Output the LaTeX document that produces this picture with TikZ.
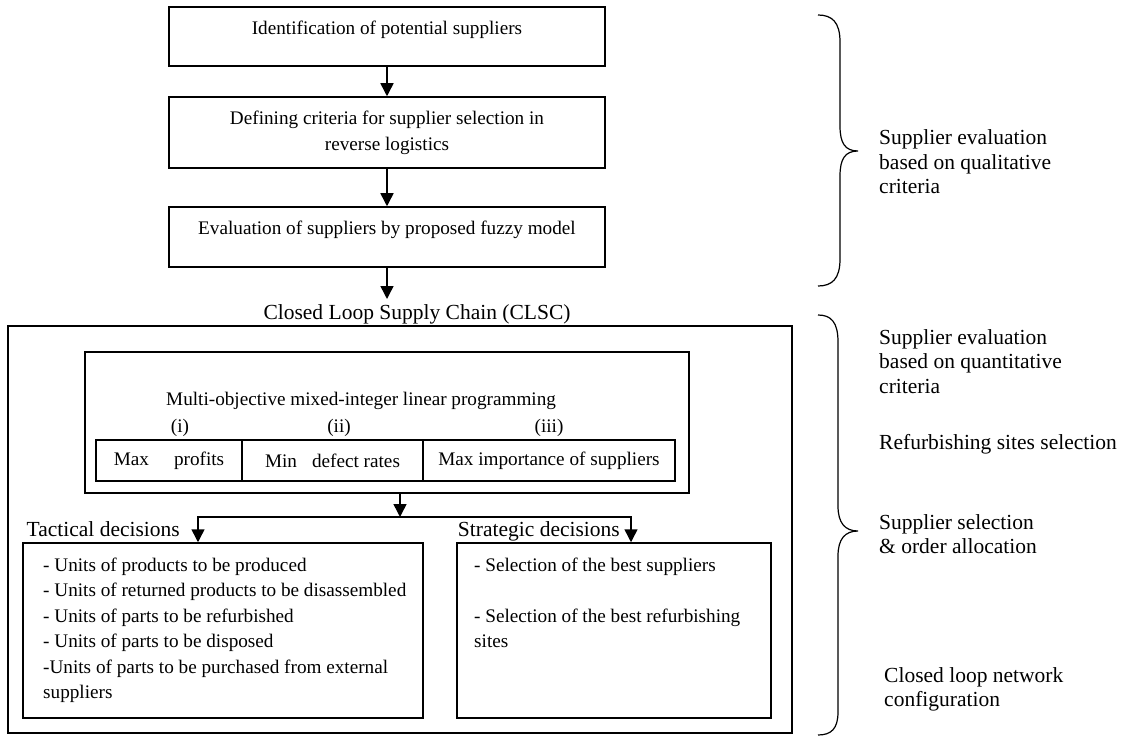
\documentclass[tikz,border=0pt]{standalone}
\usepackage{fontspec}
\setmainfont{Liberation Serif}
\usetikzlibrary{arrows.meta}
\newcommand\fmain{\fontsize{19.2}{25.5}\selectfont}
\newcommand\flab{\fontsize{21.5}{24.5}\selectfont}
\begin{document}
\begin{tikzpicture}[x=1pt,y=-1pt,
  box/.style={draw, line width=1.5pt, inner sep=0pt},
  txt/.style={inner sep=0pt, font=\fmain},
  lab/.style={inner sep=0pt, font=\flab},
  arr/.style={line width=1.5pt, -{Triangle[length=13pt,width=13pt]}},
  brace/.style={line width=1.2pt}]
\useasboundingbox (0,0) rectangle (1124,738);

% upper chain
\node[box, minimum width=436pt, minimum height=59pt] (b1) at (387,36.5) {};
\node[txt, anchor=base] (t1) at (387,35) {Identification of potential suppliers};
\node[box, minimum width=436pt, minimum height=71pt] (b2) at (387,132.5) {};
\node[txt, anchor=base] (t2) at (387,125) {\begin{tabular}[t]{@{}c@{}}Defining criteria for supplier selection in\\ reverse logistics\end{tabular}};
\node[box, minimum width=436pt, minimum height=60pt] (b3) at (387,237) {};
\node[txt, anchor=base] (t3) at (387,234) {Evaluation of suppliers by proposed fuzzy model};
\coordinate (e3) at (387,299);
\draw[arr] (b1.south) -- (b2.north);
\draw[arr] (b2.south) -- (b3.north);
\draw[arr] (b3.south) -- (e3);

% CLSC
\node[lab, anchor=base] (clsc) at (417,319) {Closed Loop Supply Chain (CLSC)};
\node[box, minimum width=784pt, minimum height=407pt] (outer) at (400,529.5) {};
\node[box, minimum width=604pt, minimum height=141pt] (mom) at (387,422.5) {};
\node[txt, anchor=base west] (title) at (166,405) {Multi-objective mixed-integer linear programming};
\node[txt, anchor=base] (o1) at (180,432) {(i)};
\node[txt, anchor=base] (o2) at (339,432) {(ii)};
\node[txt, anchor=base] (o3) at (549,432) {(iii)};
\node[box, minimum width=146pt, minimum height=41pt, font=\fmain] (c1) at (169,460.5) {Max\hspace{25pt}profits};
\node[box, minimum width=181pt, minimum height=41pt, font=\fmain] (c2) at (332.5,460.5) {Min\hspace{15pt}defect rates};
\node[box, minimum width=252pt, minimum height=41pt, font=\fmain] (c3) at (549,460.5) {Max importance of suppliers};

% decisions
\node[box, minimum width=400pt, minimum height=175pt] (tac) at (223,630.5) {};
\node[box, minimum width=314pt, minimum height=175pt] (str) at (614,630.5) {};
\coordinate (hm) at (400,517);
\coordinate (hl) at (198,517);
\coordinate (hr) at (631,517);
\draw[arr] (hm |- mom.south) -- (hm);
\draw[arr] (hm) -- (hl) -- (hl |- tac.north);
\draw[arr] (hm) -- (hr) -- (hr |- str.north);
\node[lab, anchor=base east] (tl) at (180,536) {Tactical decisions};
\node[lab, anchor=base east] (sl) at (620,536) {Strategic decisions};
\node[txt, anchor=base west] (tt) at (43,571) {\begin{tabular}[t]{@{}l@{}}- Units of products to be produced\\ - Units of returned products to be disassembled\\ - Units of parts to be refurbished\\ - Units of parts to be disposed\\ -Units of parts to be purchased from external\\ suppliers\end{tabular}};
\node[txt, anchor=base west] (st) at (474,571) {\begin{tabular}[t]{@{}l@{}}- Selection of the best suppliers\\ \\ - Selection of the best refurbishing\\ sites\end{tabular}};

% right side
\draw[brace] (818,15) .. controls (832,15) and (840,22) .. (840,42) -- (840,126) .. controls (840,143) and (845,151) .. (858,151) .. controls (845,151) and (840,159) .. (840,176) -- (840,259) .. controls (840,279) and (832,286) .. (818,286);
\draw[brace] (818,315) .. controls (831,315) and (838,322) .. (838,342) -- (838,506) .. controls (838,523) and (845,531) .. (858,531) .. controls (845,531) and (838,539) .. (838,556) -- (838,712) .. controls (838,729) and (831,735) .. (818,735);
\node[lab, anchor=base west] (r1) at (879,145) {\begin{tabular}[t]{@{}l@{}}Supplier evaluation\\ based on qualitative\\ criteria\end{tabular}};
\node[lab, anchor=base west] (r2) at (879,344) {\begin{tabular}[t]{@{}l@{}}Supplier evaluation\\ based on quantitative\\ criteria\end{tabular}};
\node[lab, anchor=base west] (r3) at (879,449) {Refurbishing sites selection};
\node[lab, anchor=base west] (r4) at (879,529) {\begin{tabular}[t]{@{}l@{}}Supplier selection\\ \& order allocation\end{tabular}};
\node[lab, anchor=base west] (r5) at (884,682) {\begin{tabular}[t]{@{}l@{}}Closed loop network\\ configuration\end{tabular}};
\end{tikzpicture}
\end{document}
